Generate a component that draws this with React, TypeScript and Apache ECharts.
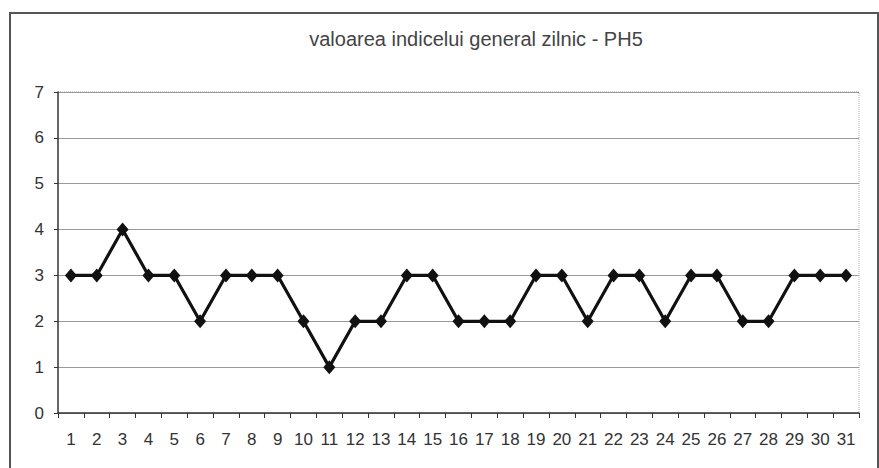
import React, { useEffect, useRef } from "react";
import * as echarts from "echarts";

const categories = ["1","2","3","4","5","6","7","8","9","10","11","12","13","14","15","16","17","18","19","20","21","22","23","24","25","26","27","28","29","30","31"];
const values = [3,3,4,3,3,2,3,3,3,2,1,2,2,3,3,2,2,2,3,3,2,3,3,2,3,3,2,2,3,3,3];
const titleText = "valoarea indicelui general zilnic - PH5";

export default function App() {
  const ref = useRef<HTMLDivElement>(null);
  useEffect(() => {
    const chart = echarts.init(ref.current!, null, { renderer: "svg" });
    chart.setOption({
      animation: false,
      backgroundColor: "#ffffff",
      title: {
        text: titleText,
        left: 471,
        top: 24,
        textAlign: "center",
        textStyle: { fontFamily: "Liberation Sans", fontSize: 20, fontWeight: "normal", color: "#444" },
      },
      graphic: [
        {
          type: "rect",
          shape: { x: 10, y: 13, width: 868, height: 470 },
          style: { fill: "none", stroke: "#555", lineWidth: 2 },
          silent: true,
        },
        {
          type: "polyline",
          shape: { points: [[58, 92], [859, 92], [859, 413]] },
          style: { fill: "none", stroke: "#aaa", lineWidth: 1, lineDash: [1, 1] },
          silent: true,
        },
      ],
      grid: { left: 58, right: 20, top: 92, bottom: 55 },
      xAxis: {
        type: "category",
        data: categories,
        boundaryGap: true,
        axisLine: { lineStyle: { color: "#333", width: 1.5 } },
        axisTick: { show: true, alignWithLabel: false, length: 5, lineStyle: { color: "#333" } },
        axisLabel: { color: "#333", fontFamily: "Liberation Sans", fontSize: 17, margin: 18, interval: 0 },
      },
      yAxis: {
        type: "value",
        min: 0,
        max: 7,
        interval: 1,
        axisLine: { show: true, lineStyle: { color: "#333", width: 1.5 } },
        axisTick: { show: true, length: 4, lineStyle: { color: "#333" } },
        axisLabel: { color: "#333", fontFamily: "Liberation Sans", fontSize: 17, margin: 14 },
        splitLine: { show: true, lineStyle: { color: "#999", width: 1 } },
      },
      series: [
        {
          type: "line",
          data: values,
          symbol: "diamond",
          symbolSize: [12, 14],
          lineStyle: { color: "#111", width: 3.2 },
          itemStyle: { color: "#111" },
        },
      ],
    });
    return () => chart.dispose();
  }, []);
  return <div ref={ref} style={{ position: "fixed", left: 0, top: 0, width: 879, height: 468 }} />;
}
